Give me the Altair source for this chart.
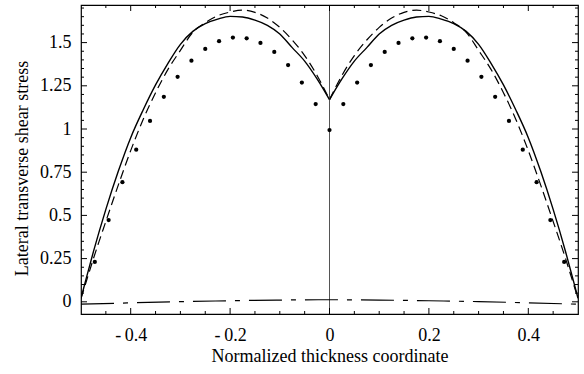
import altair as alt
import pandas as pd

# ---------------- data ----------------
curve_x = [-0.5, -0.49, -0.475, -0.45, -0.425, -0.4, -0.375, -0.35, -0.325, -0.3,
           -0.275, -0.25, -0.225, -0.2, -0.175, -0.15, -0.125, -0.1, -0.075, -0.05,
           -0.025, 0.0,
           0.025, 0.05, 0.075, 0.1, 0.125, 0.15, 0.175, 0.2, 0.225, 0.25, 0.275,
           0.3, 0.325, 0.35, 0.375, 0.4, 0.425, 0.45, 0.475, 0.49, 0.5]

solid_y = [0.02, 0.13, 0.29, 0.535, 0.755, 0.95, 1.11, 1.255, 1.38, 1.49,
           1.565, 1.61, 1.636, 1.652, 1.648, 1.630, 1.60, 1.55, 1.471, 1.393,
           1.29, 1.17,
           1.29, 1.393, 1.471, 1.55, 1.60, 1.630, 1.648, 1.652, 1.636, 1.61, 1.565,
           1.49, 1.38, 1.255, 1.11, 0.95, 0.755, 0.535, 0.29, 0.13, 0.02]

dashed_y = [0.02, 0.112, 0.25, 0.465, 0.675, 0.875, 1.055, 1.21, 1.345, 1.455,
            1.56, 1.615, 1.655, 1.677, 1.688, 1.675, 1.642, 1.588, 1.515, 1.425,
            1.31, 1.17,
            1.31, 1.425, 1.515, 1.588, 1.642, 1.675, 1.688, 1.677, 1.655, 1.615, 1.56,
            1.455, 1.345, 1.21, 1.055, 0.875, 0.675, 0.465, 0.25, 0.112, 0.02]

dashdot_x = [-0.5, -0.4, -0.3, -0.2, -0.1, 0.0, 0.1, 0.2, 0.3, 0.4, 0.5]
dashdot_y = [-0.014, -0.006, 0.001, 0.006, 0.010, 0.012, 0.010, 0.006, 0.001, -0.006, -0.014]

dot_x = [-0.4722, -0.4444, -0.4167, -0.3889, -0.3611, -0.3333, -0.3056, -0.2778, -0.25,
         -0.2222, -0.1944, -0.1667, -0.1389, -0.1111, -0.0833, -0.0556, -0.0278, 0.0,
         0.0278, 0.0556, 0.0833, 0.1111, 0.1389, 0.1667, 0.1944, 0.2222, 0.25,
         0.2778, 0.3056, 0.3333, 0.3611, 0.3889, 0.4167, 0.4444, 0.4722]
dot_y = [0.231, 0.473, 0.692, 0.880, 1.047, 1.186, 1.302, 1.395, 1.463,
         1.508, 1.529, 1.525, 1.498, 1.446, 1.370, 1.269, 1.144, 0.994,
         1.144, 1.269, 1.370, 1.446, 1.498, 1.525, 1.529, 1.508, 1.463,
         1.395, 1.302, 1.186, 1.047, 0.880, 0.692, 0.473, 0.231]

x_major = [-0.4, -0.2, 0.0, 0.2, 0.4]
x_minor = [-0.45, -0.35, -0.3, -0.25, -0.15, -0.1, -0.05, 0.05, 0.1, 0.15,
           0.25, 0.3, 0.35, 0.45]
y_major = [0.0, 0.25, 0.5, 0.75, 1.0, 1.25, 1.5]
y_minor = [0.05, 0.1, 0.15, 0.2, 0.3, 0.35, 0.4, 0.45, 0.55, 0.6, 0.65, 0.7,
           0.8, 0.85, 0.9, 0.95, 1.05, 1.1, 1.15, 1.2, 1.3, 1.35, 1.4, 1.45,
           1.55, 1.6, 1.65, 1.7]

# ---------------- layout ----------------
W, H = 497, 309
FONT = "Liberation Serif"
FS = 18
xs = alt.Scale(domain=[-0.5, 0.5], nice=False, zero=False)
ys = alt.Scale(domain=[-0.0706, 1.7176], nice=False, zero=False)

mid = curve_x.index(0.0)
half = ["L"] * (mid + 1) + ["R"] * (len(curve_x) - mid)
cx = curve_x[:mid + 1] + curve_x[mid:]
cs = solid_y[:mid + 1] + solid_y[mid:]
cd = dashed_y[:mid + 1] + dashed_y[mid:]
curves = pd.DataFrame({"x": cx, "solid": cs, "dashed": cd, "half": half})
dd = pd.DataFrame({"x": dashdot_x, "y": dashdot_y})
dots = pd.DataFrame({"x": dot_x, "y": dot_y})

x_axis = alt.Axis(values=x_major, tickSize=0, domain=False, grid=False,
                  labelExpr="datum.value < 0 ? '-\u2009' + toString(-datum.value) : toString(datum.value)",
                  labelFont=FONT, labelFontSize=FS, labelColor="black", labelPadding=12,
                  title="Normalized thickness coordinate", titleFont=FONT, titleFontSize=FS,
                  titleFontWeight="normal", titleColor="black", titlePadding=3)
y_axis = alt.Axis(values=y_major, tickSize=0, domain=False, grid=False,
                  labelExpr="toString(datum.value)",
                  labelFont=FONT, labelFontSize=FS, labelColor="black", labelPadding=10,
                  title="Lateral transverse shear stress", titleFont=FONT, titleFontSize=FS,
                  titleFontWeight="normal", titleColor="black", titlePadding=8,
                  titleY=163)

def X(field):
    return alt.X(field, type="quantitative", scale=xs, axis=x_axis)

def Y(field):
    return alt.Y(field, type="quantitative", scale=ys, axis=y_axis)

solid = alt.Chart(curves).mark_line(color="black", strokeWidth=1.4, clip=True,
                                    interpolate="monotone").encode(
    x=X("x"), y=Y("solid"), detail="half:N")
dashed = alt.Chart(curves).mark_line(color="black", strokeWidth=1.2, strokeDash=[9, 5], clip=True,
                                     interpolate="monotone").encode(
    x=X("x"), y=Y("dashed"), detail="half:N")
dashdot = alt.Chart(dd).mark_line(color="black", strokeWidth=1.2, strokeDash=[33, 9, 5, 9], clip=True,
                                  interpolate="monotone").encode(
    x=X("x"), y=Y("y"))
points = alt.Chart(dots).mark_circle(color="black", size=18, opacity=1).encode(
    x=X("x"), y=Y("y"))
vline = alt.Chart(pd.DataFrame({"x": [0.0]})).mark_rule(color="#555555", strokeWidth=1).encode(
    x=X("x"))

# frame ticks (inward), positioned through the scales
def xticks(vals, length):
    df = pd.DataFrame({"x": vals})
    b = alt.Chart(df).mark_rule(color="black", strokeWidth=1).encode(
        x=X("x"), y=alt.value(H), y2=alt.value(H - length))
    t = alt.Chart(df).mark_rule(color="black", strokeWidth=1).encode(
        x=X("x"), y=alt.value(0), y2=alt.value(length))
    return [b, t]

def yticks(vals, length):
    df = pd.DataFrame({"y": vals})
    l = alt.Chart(df).mark_rule(color="black", strokeWidth=1).encode(
        y=Y("y"), x=alt.value(0), x2=alt.value(length))
    r = alt.Chart(df).mark_rule(color="black", strokeWidth=1).encode(
        y=Y("y"), x=alt.value(W), x2=alt.value(W - length))
    return [l, r]

layers = ([solid, vline, dashdot, dashed, points]
          + xticks(x_major, 6) + xticks(x_minor, 3) + yticks(y_major, 6) + yticks(y_minor, 3))

chart = alt.layer(*layers).properties(
    width=W, height=H,
    autosize=alt.AutoSizeParams(type="none"),
    padding={"left": 81, "top": 5, "right": 6, "bottom": 60},
    background="white",
).configure_view(stroke="black", strokeWidth=1.2)

chart.save("out.html", embed_options={"renderer": "svg", "actions": False})
